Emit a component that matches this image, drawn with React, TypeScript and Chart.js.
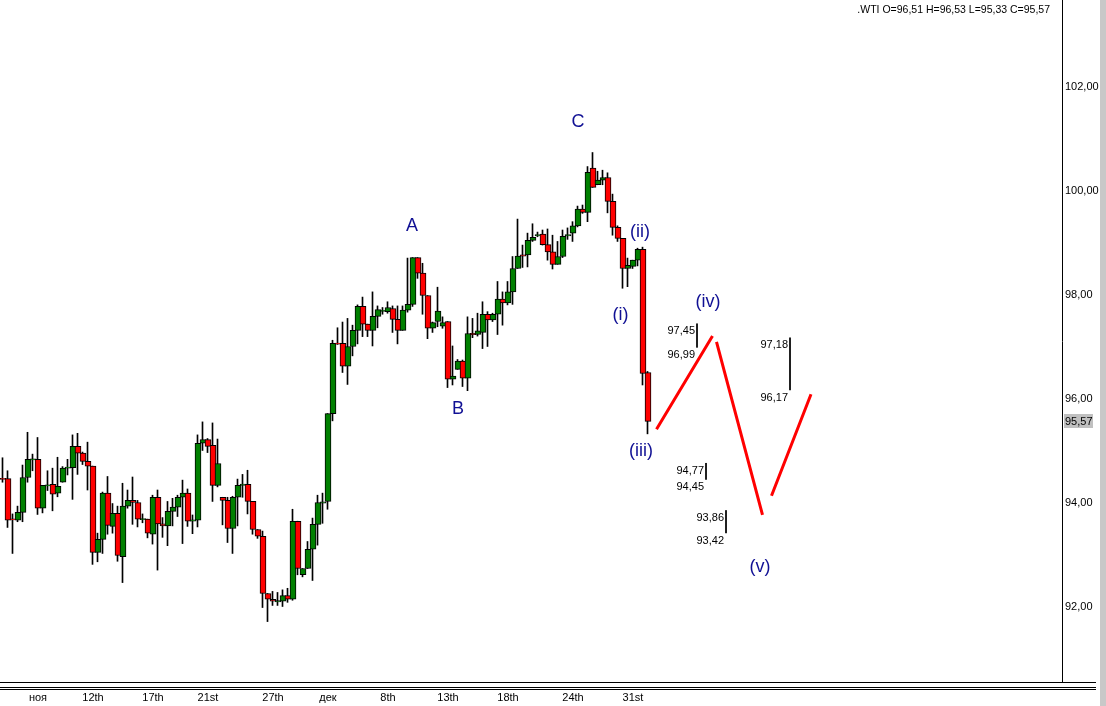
import React, { useEffect, useRef } from "react";
import { Chart, registerables } from "chart.js";

Chart.register(...registerables);

// ---- data ----
const opens = [
  94.47, 94.47, 93.69, 93.67, 93.82, 94.49, 94.84, 94.84, 93.90, 94.34,
  94.36, 94.19, 94.40, 94.68, 94.68, 95.09, 94.96, 94.80, 94.71, 93.05,
  93.30, 94.19, 93.55, 93.80, 92.97, 93.94, 94.05, 94.01, 93.69, 93.69,
  93.40, 94.11, 93.60, 93.56, 93.84, 93.92, 94.11, 94.19, 93.66, 93.67,
  95.15, 95.22, 95.11, 94.34, 94.11, 94.05, 93.51, 94.11, 94.34, 94.36,
  94.03, 93.49, 93.36, 92.26, 92.15, 92.11, 92.11, 92.22, 92.15, 93.65,
  92.62, 92.74, 93.11, 93.59, 94.01, 94.03, 95.72, 97.07, 97.07, 96.63,
  97.01, 97.32, 97.78, 97.44, 97.32, 97.59, 97.69, 97.68, 97.74, 97.53,
  97.32, 97.71, 97.82, 98.72, 98.42, 97.99, 97.36, 97.49, 97.40, 97.49,
  96.38, 96.57, 96.73, 96.40, 97.26, 97.24, 97.28, 97.63, 97.52, 97.63,
  97.92, 97.85, 98.06, 98.51, 98.77, 98.77, 99.05, 99.15, 99.17, 98.97,
  98.83, 98.59, 98.74, 99.15, 99.19, 99.33, 99.65, 99.59, 100.44, 100.12,
  100.21, 100.26, 99.80, 99.30, 99.09, 98.51, 98.55, 98.67, 98.88, 96.51,
];
const highs = [
  94.87, 94.62, 93.79, 93.94, 94.73, 95.36, 94.94, 95.26, 94.34, 94.62,
  94.67, 94.88, 94.70, 94.84, 95.31, 95.34, 94.98, 95.17, 94.71, 93.42,
  94.21, 94.51, 93.99, 93.94, 94.38, 94.25, 94.50, 94.05, 93.79, 93.69,
  94.15, 94.25, 93.72, 94.03, 94.09, 94.15, 94.44, 94.27, 93.77, 95.31,
  95.56, 95.24, 95.54, 95.23, 94.11, 94.11, 94.13, 94.46, 94.55, 94.63,
  94.03, 93.49, 93.46, 92.26, 92.30, 92.28, 92.33, 92.36, 93.88, 93.65,
  92.74, 93.26, 93.71, 94.15, 94.19, 95.72, 97.13, 97.37, 97.48, 97.55,
  97.42, 97.81, 97.96, 97.44, 98.06, 97.79, 97.76, 97.87, 97.79, 97.79,
  97.79, 98.71, 98.72, 98.72, 98.61, 97.99, 97.48, 98.15, 97.58, 97.49,
  97.02, 96.76, 96.75, 97.58, 97.55, 97.65, 97.87, 97.68, 97.65, 98.26,
  98.06, 98.26, 98.74, 99.46, 98.96, 99.19, 99.37, 99.21, 99.25, 99.27,
  99.15, 99.03, 99.25, 99.29, 99.41, 99.71, 99.73, 100.47, 100.74, 100.38,
  100.40, 100.35, 99.94, 99.33, 99.09, 98.71, 98.67, 98.90, 98.92, 96.53,
];
const lows = [
  94.40, 93.53, 93.03, 93.64, 93.64, 94.40, 94.62, 93.78, 93.81, 94.24,
  93.85, 94.12, 94.40, 94.54, 94.07, 94.55, 94.74, 94.25, 92.82, 92.87,
  93.03, 93.40, 93.42, 92.88, 92.47, 93.90, 93.59, 93.54, 93.62, 93.33,
  93.21, 92.71, 93.34, 93.18, 93.56, 93.74, 93.22, 93.55, 93.41, 93.54,
  95.01, 94.97, 94.03, 94.31, 93.58, 93.24, 93.03, 93.56, 94.11, 93.79,
  93.40, 93.32, 91.99, 91.72, 92.03, 92.03, 92.01, 92.09, 92.13, 92.62,
  92.58, 92.74, 92.51, 93.19, 93.61, 93.88, 95.58, 97.05, 96.51, 96.28,
  96.83, 97.06, 97.20, 97.20, 97.02, 97.37, 97.63, 97.65, 97.28, 97.06,
  97.32, 97.67, 97.78, 98.32, 97.63, 97.16, 97.28, 97.39, 97.36, 96.22,
  96.27, 96.57, 96.24, 96.16, 97.18, 97.21, 96.97, 97.01, 97.49, 97.24,
  97.42, 97.81, 97.82, 98.51, 98.53, 98.54, 99.03, 99.12, 98.96, 98.67,
  98.50, 98.59, 98.72, 99.07, 99.03, 99.31, 99.57, 99.41, 100.07, 100.12,
  100.12, 99.58, 99.15, 99.03, 98.13, 98.16, 98.51, 98.56, 96.27, 95.33,
];
const closes = [
  94.46, 93.67, 93.68, 93.82, 94.49, 94.84, 94.84, 93.90, 94.34, 94.34,
  94.17, 94.32, 94.67, 94.68, 95.09, 94.96, 94.80, 94.71, 93.05, 93.30,
  94.19, 93.57, 93.80, 92.99, 93.94, 94.05, 94.01, 93.69, 93.69, 93.42,
  94.11, 93.60, 93.56, 93.84, 93.92, 94.11, 94.19, 93.65, 93.67, 95.15,
  95.22, 95.09, 94.34, 94.76, 94.05, 93.51, 94.11, 94.34, 94.36, 94.03,
  93.49, 93.36, 92.26, 92.15, 92.11, 92.11, 92.22, 92.15, 93.65, 92.74,
  92.74, 93.11, 93.59, 94.01, 94.01, 95.72, 97.07, 97.06, 96.63, 97.01,
  97.32, 97.78, 97.44, 97.32, 97.59, 97.72, 97.70, 97.76, 97.53, 97.32,
  97.71, 97.82, 98.72, 98.42, 97.99, 97.36, 97.47, 97.69, 97.47, 96.38,
  96.44, 96.73, 96.40, 97.26, 97.24, 97.31, 97.63, 97.52, 97.63, 97.92,
  97.85, 98.06, 98.51, 98.75, 98.75, 99.05, 99.11, 99.15, 98.97, 98.83,
  98.59, 98.74, 99.13, 99.15, 99.33, 99.65, 99.59, 100.36, 100.07, 100.21,
  100.26, 99.80, 99.30, 99.09, 98.51, 98.57, 98.67, 98.88, 96.49, 95.57,
];

const xTickIndex = [7, 18, 30, 41, 54, 65, 77, 89, 101, 114, 126];
const xTickLabels = ["ноя", "12th", "17th", "21st", "27th", "дек", "8th", "13th", "18th", "24th", "31st"];
const yTickValues = [92, 94, 96, 98, 100, 102];

const waveLabels = ["A", "B", "C", "(i)", "(ii)", "(iii)", "(iv)", "(v)"];
const waveX = [81.8, 91, 115, 123.5, 127.4, 127.6, 141, 151.4];
const waveY = [99.33, 95.81, 101.33, 97.62, 99.21, 95.0, 97.87, 92.77];

const projX = [130.7, 141.9, 142.3, 142.7, 151.9, 152.8, 153.7, 161.6];
const projY = [95.42, 97.21, null, 97.10, 93.77, null, 94.14, 96.09];

const levelX = [138.8, 140.6, 144.6, 157.4];
const levelHigh = [97.45, 94.77, 93.86, 97.18];
const levelLow = [96.99, 94.45, 93.42, 96.17];

const lastClose = 95.57;
const headerText = ".WTI O=96,51 H=96,53 L=95,33 C=95,57";

const Y_MIN = 90.558;
const Y_MAX = 103.673;
const X_MIN = -0.6;
const X_MAX = 211.8;

const fmt = (v: number) => v.toFixed(2).replace(".", ",");
const FONT = '"Liberation Sans", Arial, sans-serif';

const overlayPlugin = {
  id: "overlay",
  afterDraw(chart: any) {
    const { ctx, chartArea } = chart;
    const xs = chart.scales.x;
    const ys = chart.scales.y;
    ctx.save();

    // right grey strip
    ctx.fillStyle = "#c8c8c8";
    ctx.fillRect(1100, 0, 6, chart.height);

    // bottom double line
    ctx.strokeStyle = "#000";
    ctx.lineWidth = 1;
    ctx.beginPath();
    ctx.moveTo(0, chartArea.bottom + 0.5);
    ctx.lineTo(1096, chartArea.bottom + 0.5);
    ctx.moveTo(0, chartArea.bottom + 5.5);
    ctx.lineTo(1096, chartArea.bottom + 5.5);
    ctx.moveTo(0, chartArea.bottom + 7.5);
    ctx.lineTo(1096, chartArea.bottom + 7.5);
    ctx.stroke();

    // wave labels
    ctx.font = "18px " + FONT;
    ctx.fillStyle = "#101094";
    ctx.textAlign = "center";
    ctx.textBaseline = "middle";
    waveLabels.forEach((t, i) => {
      ctx.fillText(t, xs.getPixelForValue(waveX[i]), ys.getPixelForValue(waveY[i]));
    });

    // level texts
    ctx.font = "11px " + FONT;
    ctx.fillStyle = "#000";
    ctx.textAlign = "right";
    levelX.forEach((lx, i) => {
      const px = xs.getPixelForValue(lx) - 2;
      ctx.fillText(fmt(levelHigh[i]), px, ys.getPixelForValue(levelHigh[i]) + 7.5);
      ctx.fillText(fmt(levelLow[i]), px, ys.getPixelForValue(levelLow[i]) + 7.5);
    });

    // header
    ctx.font = "10.5px " + FONT;
    ctx.textAlign = "right";
    ctx.fillText(headerText, 1050, 10);

    // last price marker on axis
    ctx.font = "11px " + FONT;
    const ly = Math.round(ys.getPixelForValue(lastClose));
    ctx.fillStyle = "#c0c0c0";
    ctx.fillRect(chartArea.right + 2, ly - 7, 29, 14);
    ctx.fillStyle = "#000";
    ctx.textAlign = "left";
    ctx.fillText(fmt(lastClose), chartArea.right + 3, ly + 0.5);

    ctx.restore();
  },
};

export default function App() {
  const ref = useRef<HTMLCanvasElement | null>(null);

  useEffect(() => {
    if (!ref.current) return;
    const n = opens.length;
    const bodies = [];
    const wicks = [];
    const colors: string[] = [];
    for (let i = 0; i < n; i++) {
      let lo = Math.min(opens[i], closes[i]);
      let hi = Math.max(opens[i], closes[i]);
      if (hi - lo < 0.025) {
        const m = (hi + lo) / 2;
        lo = m - 0.012;
        hi = m + 0.012;
      }
      bodies.push({ x: i, y: [lo, hi] });
      wicks.push({ x: i - 0.1, y: [lows[i], highs[i]] });
      colors.push(closes[i] >= opens[i] ? "#008000" : "#ff0000");
    }
    const proj = projX.map((x, i) => ({ x, y: projY[i] }));
    const levels: any[] = [];
    levelX.forEach((x, i) => {
      levels.push({ x, y: levelHigh[i] });
      levels.push({ x, y: levelLow[i] });
      levels.push({ x, y: null });
    });

    const chart = new Chart(ref.current, {
      type: "bar",
      data: {
        datasets: [
          {
            type: "bar",
            data: wicks as any,
            backgroundColor: "#000",
            borderWidth: 0,
            barThickness: 1,
            grouped: false,
            order: 3,
          } as any,
          {
            type: "bar",
            data: bodies as any,
            backgroundColor: colors,
            borderColor: "#000",
            borderWidth: 1,
            borderSkipped: false,
            barThickness: 6,
            grouped: false,
            order: 2,
          } as any,
          {
            type: "line",
            data: levels,
            borderColor: "#000",
            borderWidth: 1,
            pointRadius: 0,
            spanGaps: false,
            order: 1,
          } as any,
          {
            type: "line",
            data: proj as any,
            borderColor: "#ff0000",
            borderWidth: 3,
            pointRadius: 0,
            spanGaps: false,
            order: 0,
          } as any,
        ],
      },
      options: {
        responsive: false,
        animation: false,
        devicePixelRatio: 1,
        layout: { padding: 0 },
        plugins: { legend: { display: false }, tooltip: { enabled: false } },
        scales: {
          x: {
            type: "linear",
            min: X_MIN,
            max: X_MAX,
            offset: false,
            grid: { display: false, drawTicks: false },
            border: { display: false },
            afterBuildTicks: (s: any) => {
              s.ticks = xTickIndex.map((v) => ({ value: v }));
            },
            afterFit: (s: any) => {
              s.height = 24;
              s.paddingLeft = 0;
              s.paddingRight = 0;
            },
            ticks: {
              autoSkip: false,
              maxRotation: 0,
              padding: 9,
              color: "#000",
              font: { family: FONT, size: 11 },
              callback: (v: any) => {
                const k = xTickIndex.indexOf(Number(v));
                return k >= 0 ? xTickLabels[k] : "";
              },
            },
          },
          y: {
            type: "linear",
            position: "right",
            min: Y_MIN,
            max: Y_MAX,
            grid: { display: false, drawTicks: false },
            border: { display: true, color: "#000", width: 1 },
            afterBuildTicks: (s: any) => {
              s.ticks = yTickValues.map((v) => ({ value: v }));
            },
            afterFit: (s: any) => {
              s.width = 44;
              s.paddingTop = 0;
              s.paddingBottom = 0;
            },
            ticks: {
              padding: 3,
              color: "#000",
              font: { family: FONT, size: 11 },
              callback: (v: any) => fmt(Number(v)),
            },
          },
        },
      },
      plugins: [overlayPlugin],
    });
    return () => chart.destroy();
  }, []);

  return (
    <div style={{ position: "fixed", left: 0, top: 0, width: 1106, height: 706, background: "#fff" }}>
      <canvas ref={ref} width={1106} height={706} />
    </div>
  );
}
